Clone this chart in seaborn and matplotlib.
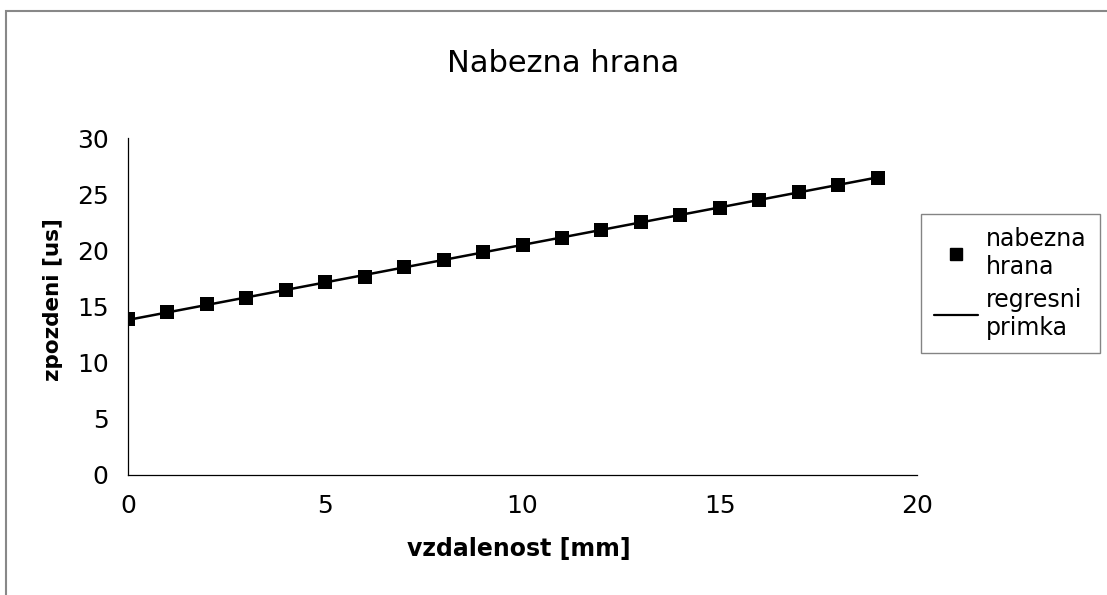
import numpy as np
import pandas as pd
import matplotlib
matplotlib.use("Agg")
import matplotlib.pyplot as plt
import seaborn as sns
from matplotlib.patches import Rectangle
from matplotlib.lines import Line2D

# data
vzdalenost = [0, 1, 2, 3, 4, 5, 6, 7, 8, 9, 10, 11, 12, 13, 14, 15, 16, 17, 18, 19]
zpozdeni = [13.87, 14.50, 15.18, 15.79, 16.44, 17.16, 17.67, 18.48, 19.17, 19.83,
            20.45, 21.11, 21.83, 22.50, 23.18, 23.81, 24.50, 25.22, 25.85, 26.45]
x_ticks = [0, 5, 10, 15, 20]
y_ticks = [0, 5, 10, 15, 20, 25, 30]
title = "Nabezna hrana"
xlabel = "vzdalenost [mm]"
ylabel = "zpozdeni [us]"
series_names = ["nabezna\nhrana", "regresni\nprimka"]

sns.set_style("white")
plt.rcParams['font.family'] = ['DejaVu Sans']
plt.rcParams['text.color'] = 'black'
plt.rcParams['axes.labelcolor'] = 'black'

df = pd.DataFrame({"x": vzdalenost, "y": zpozdeni})

fig = plt.figure(figsize=(11.07, 5.95), dpi=100)
W, H = 1107, 595
ax = fig.add_axes([128 / W, 1 - 475 / H, (917 - 128) / W, (475 - 138) / H])

sns.regplot(data=df, x="x", y="y", ax=ax, ci=None, scatter=False,
            line_kws=dict(color="black", lw=1.8, zorder=2))
sns.scatterplot(data=df, x="x", y="y", ax=ax, marker="s", s=100,
                color="black", edgecolor="black", linewidth=0, zorder=3)

ax.set_xlim(0, 20)
ax.set_ylim(0, 30)
ax.set_xticks(x_ticks)
ax.set_yticks(y_ticks)
ax.tick_params(axis="both", labelsize=18, direction="out", length=5,
               width=0.8, color="black", labelcolor="black")
ax.tick_params(axis="x", pad=9)
ax.tick_params(axis="y", pad=9)
for s in ["top", "right"]:
    ax.spines[s].set_visible(False)
for s in ["left", "bottom"]:
    ax.spines[s].set_color("black")
    ax.spines[s].set_linewidth(0.9)
ax.set_xlabel(xlabel, fontsize=17, fontweight="bold", color="black")
ax.set_ylabel(ylabel, fontsize=15.5, fontweight="bold", color="black")
ax.xaxis.set_label_coords(0.495, -0.185)
ax.yaxis.set_label_coords(-0.095, 0.52)
ax.yaxis.label.set_va("center")
ax.grid(False)

fig.text(563 / W, 1 - 72 / H, title, fontsize=22, ha="center", va="baseline",
         color="black")

handles = [
    Line2D([], [], marker="s", color="black", linestyle="none", markersize=9),
    Line2D([], [], color="black", lw=1.6),
]
leg = fig.legend(handles, series_names, loc="upper left",
                 bbox_to_anchor=(921 / W, 1 - 214 / H), fontsize=17,
                 frameon=True, fancybox=False, handlelength=1.85,
                 handletextpad=0.35, labelspacing=0.4, borderpad=0.55,
                 borderaxespad=0, labelcolor="black")
leg.get_frame().set_edgecolor("#666666")
leg.get_frame().set_linewidth(1.0)

# outer chart border
fig.patches.append(Rectangle((6 / W, -0.05), 1.2, 1 - 10.5 / H + 0.05,
                             transform=fig.transFigure, fill=False,
                             edgecolor="#888888", lw=1.5))

fig.savefig("out.png", dpi=100)
